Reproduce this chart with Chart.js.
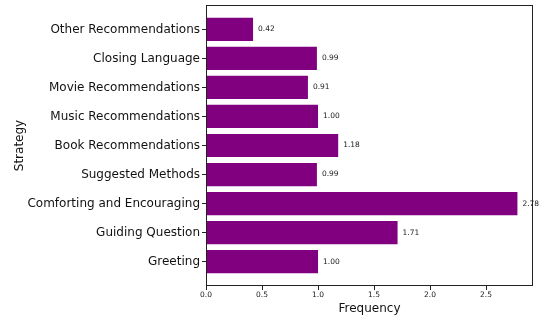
<!DOCTYPE html>
<html><head><meta charset="utf-8">
<script src="https://cdn.jsdelivr.net/npm/chart.js@4"></script>
<style>html,body{margin:0;padding:0;background:#fff}#w{width:544px;height:316px}</style>
</head><body><div id="w"><canvas id="c"></canvas></div>
<script>
const categories = ["Greeting","Guiding Question","Comforting and Encouraging","Suggested Methods","Book Recommendations","Music Recommendations","Movie Recommendations","Closing Language","Other Recommendations"];
const frequencies = [1.00, 1.71, 2.78, 0.99, 1.18, 1.00, 0.91, 0.99, 0.42];
const xTicks = [0, 0.5, 1.0, 1.5, 2.0, 2.5];
const FONT = "'DejaVu Sans', sans-serif";

const points = frequencies.map((v, i) => ({x: v, y: i}));

const frame = {
  id: 'frame',
  afterDatasetsDraw(chart) {
    const a = chart.chartArea, ctx = chart.ctx;
    ctx.save();
    ctx.strokeStyle = '#222'; ctx.lineWidth = 1;
    ctx.strokeRect(Math.round(a.left) + 0.5, Math.round(a.top) + 0.5, Math.round(a.right - a.left) - 1, Math.round(a.bottom - a.top) - 1);
    const meta = chart.getDatasetMeta(0);
    ctx.fillStyle = '#222';
    ctx.font = '7.5px ' + FONT;
    ctx.textBaseline = 'middle';
    ctx.textAlign = 'left';
    meta.data.forEach((bar, i) => {
      ctx.fillText(frequencies[i].toFixed(2), bar.x + 5, bar.y);
    });
    ctx.restore();
  }
};

new Chart(document.getElementById('c'), {
  type: 'bar',
  data: { datasets: [{ data: points, backgroundColor: '#800080', borderWidth: 0, categoryPercentage: 1.0, barPercentage: 0.8 }] },
  options: {
    indexAxis: 'y',
    responsive: true, maintainAspectRatio: false, animation: false,
    layout: { padding: { top: 5, right: 11, left: 13, bottom: 0 } },
    plugins: { legend: { display: false }, tooltip: { enabled: false } },
    scales: {
      x: {
        type: 'linear', min: 0, max: Math.max(...frequencies) * 1.05,
        afterBuildTicks(s) { s.ticks = xTicks.map(v => ({value: v})); },
        afterFit(s) { s.height = 30; s.paddingRight = 0; },
        border: { display: false },
        grid: { display: true, drawOnChartArea: false, tickLength: 4, color: '#222' },
        ticks: { font: { family: FONT, size: 7.5 }, color: '#222', padding: 1, maxRotation: 0, callback: v => Number(v).toFixed(1) },
        title: { display: true, text: 'Frequency', font: { family: FONT, size: 12 }, color: '#111', padding: { top: 0, bottom: 0 } }
      },
      y: {
        type: 'linear', offset: false, bounds: 'data', min: -0.84, max: categories.length - 1 + 0.84,
        afterBuildTicks(s) { s.ticks = categories.map((c, i) => ({value: i})); },
        afterFit(s) { s.width = 193; s.paddingTop = 0; s.paddingBottom = 0; },
        border: { display: false },
        grid: { display: true, offset: false, drawOnChartArea: false, tickLength: 4, color: '#222' },
        ticks: { font: { family: FONT, size: 12 }, color: '#111', padding: 2, callback: v => categories[v] },
        title: { display: true, text: 'Strategy', font: { family: FONT, size: 12 }, color: '#111', padding: { top: 0, bottom: 0 } }
      }
    }
  },
  plugins: [frame]
});
</script></body></html>
